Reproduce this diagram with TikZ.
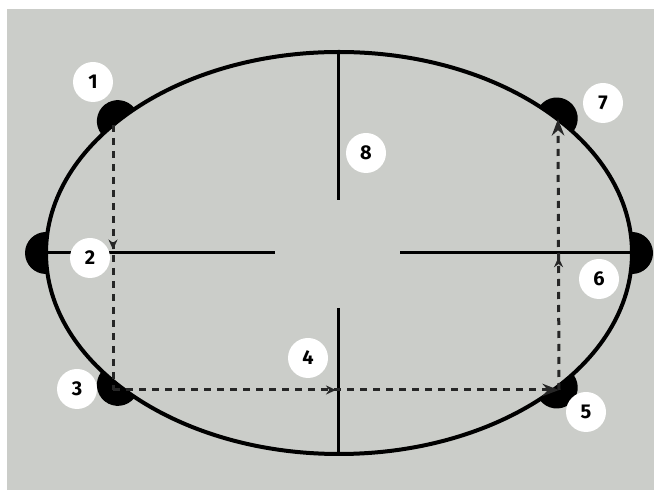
\documentclass[tikz,border=0pt]{standalone}
\usepackage{fontspec}
\setsansfont{Fira Sans}
\usetikzlibrary{arrows.meta, decorations.markings}

\definecolor{paper}{RGB}{203,205,201}

\begin{document}
\begin{tikzpicture}[x=1pt, y=1pt, >=Stealth,
    rim/.style={line width=4pt},
    cross/.style={line width=3pt},
    trace/.style={line width=3pt, black!85, dash pattern=on 7pt off 6pt},
    midarrow/.style={postaction={decorate, decoration={markings,
        mark=at position #1 with {\arrow[black!85]{Stealth[length=10pt, width=9pt]}}}}},
    num/.style={circle, fill=white, minimum size=40pt, inner sep=0pt,
        font=\sffamily\bfseries\fontsize{20}{22}\selectfont}]
  \useasboundingbox (0,0) rectangle (654,490);
  \fill[white] (0,0) rectangle (654,490);
  \fill[paper] (7,0) rectangle (654,481);

  % ellipse and cross hairs
  \draw[rim] (339,237) ellipse [x radius=293, y radius=201];
  \draw[cross] (338,438) -- (338,290);
  \draw[cross] (338,182) -- (338,36);
  \draw[cross] (46,237) -- (275,237);
  \draw[cross] (400,237) -- (632,237);

  % half discs on the rim
  \foreach \t/\n in {139/d1, 180/d2, 221/d3, -42/d5, 0/d6, 42/d7} {
    \pgfmathsetmacro\px{339+293*cos(\t)}
    \pgfmathsetmacro\py{237+201*sin(\t)}
    \pgfmathsetmacro\pn{atan2(293*sin(\t),201*cos(\t))}
    \coordinate (\n) at (\px,\py);
    \fill (\n) ++(\pn-90:21) arc[start angle=\pn-90, end angle=\pn+90, radius=21] -- cycle;
  }

  % dashed path
  \coordinate (a1) at (113,365);
  \coordinate (a3) at (113,100);
  \coordinate (a5) at (559,100);
  \coordinate (a7) at (558,371);
  \draw[trace, midarrow=0.47] (a1) -- (a3);
  \draw[trace, midarrow=0.5, ->] (a3) -- (a5);
  \draw[trace, midarrow=0.49, ->] (a5 |- a3) -- (a7);

  % numbers
  \node[num] (n1) at (93,408) {1};
  \node[num] (n2) at (90,232) {2};
  \node[num] (n3) at (77,101) {3};
  \node[num] (n4) at (308,132) {4};
  \node[num] (n5) at (586,78) {5};
  \node[num] (n6) at (599,211) {6};
  \node[num] (n7) at (603,387) {7};
  \node[num] (n8) at (366,337) {8};
\end{tikzpicture}
\end{document}
